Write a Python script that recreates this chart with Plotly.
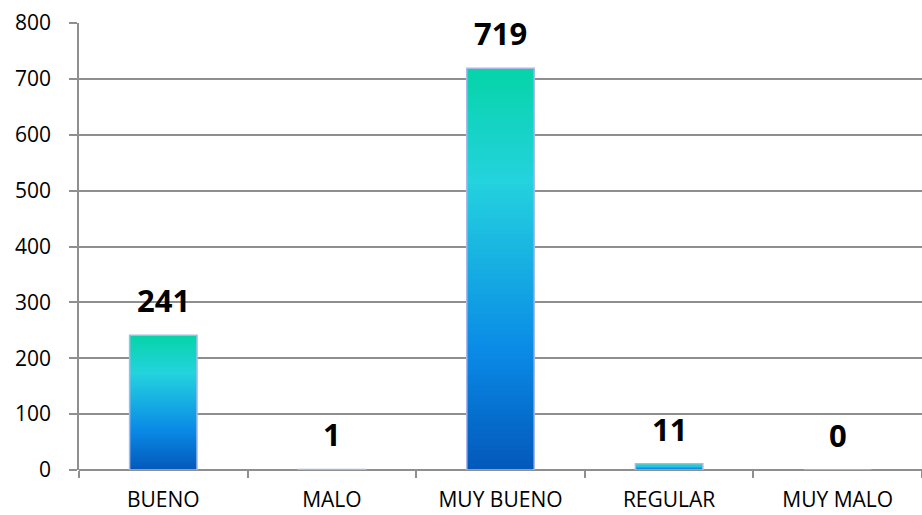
import plotly.graph_objects as go
from plotly.colors import sample_colorscale

# Survey results
categories = ["BUENO", "MALO", "MUY BUENO", "REGULAR", "MUY MALO"]
counts = [241, 1, 719, 11, 0]

y_ticks = [0, 100, 200, 300, 400, 500, 600, 700, 800]

# Vertical fill gradient for the bars (bottom -> top)
gradient = [
    [0.00, "#0358ba"],
    [0.30, "#0a8be6"],
    [0.72, "#24d3de"],
    [1.00, "#05d4a8"],
]

N_SLICES = 80
BAR_WIDTH = 0.4

fig = go.Figure()

# Each bar is built from thin stacked slices to get a vertical gradient;
# every slice but the last reaches into the next one so no seams show.
slice_colors = sample_colorscale(gradient, [(i + 0.5) / N_SLICES for i in range(N_SLICES)])
for i, col in enumerate(slice_colors):
    span = 1 if i == N_SLICES - 1 else 2
    fig.add_trace(go.Bar(
        x=categories,
        y=[v * span / N_SLICES for v in counts],
        base=[v * i / N_SLICES for v in counts],
        width=BAR_WIDTH,
        marker=dict(color=col, line=dict(width=0)),
        hoverinfo="skip",
        showlegend=False,
    ))

# Outline drawn over the gradient slices
fig.add_trace(go.Bar(
    x=categories,
    y=counts,
    width=BAR_WIDTH,
    marker=dict(color="rgba(0,0,0,0)", line=dict(color="#a9b8e8", width=1.5)),
    hoverinfo="skip",
    showlegend=False,
))

# Value labels above the bars
for c, v in zip(categories, counts):
    fig.add_annotation(
        x=c, y=v, text=f"<b>{v}</b>", showarrow=False,
        yanchor="bottom", yshift=12,
        font=dict(family="Open Sans", size=31, color="#000000"),
    )

grid = "#8f8f8f"
fig.update_layout(
    barmode="overlay",
    width=922, height=515,
    margin=dict(l=79, r=0, t=23, b=45),
    paper_bgcolor="white",
    plot_bgcolor="white",
    font=dict(family="Open Sans", size=21, color="#000000"),
    xaxis=dict(
        type="category",
        automargin=False,
        showgrid=False,
        showline=False,
        ticks="outside",
        tickson="boundaries",
        ticklen=7,
        tickwidth=1.5,
        tickcolor=grid,
        tickfont=dict(size=21),
        ticklabelstandoff=15,
        range=[-0.5, 4.5],
    ),
    yaxis=dict(
        automargin=False,
        range=[0, 800],
        tickvals=y_ticks,
        showgrid=True,
        gridcolor=grid,
        gridwidth=1.5,
        zeroline=True,
        zerolinecolor=grid,
        zerolinewidth=1.5,
        showline=True,
        linecolor=grid,
        linewidth=1.5,
        ticks="outside",
        ticklen=8,
        tickwidth=1.5,
        tickcolor=grid,
        tickfont=dict(size=21),
        ticklabelstandoff=14,
    ),
)

fig.write_html("out.html")
